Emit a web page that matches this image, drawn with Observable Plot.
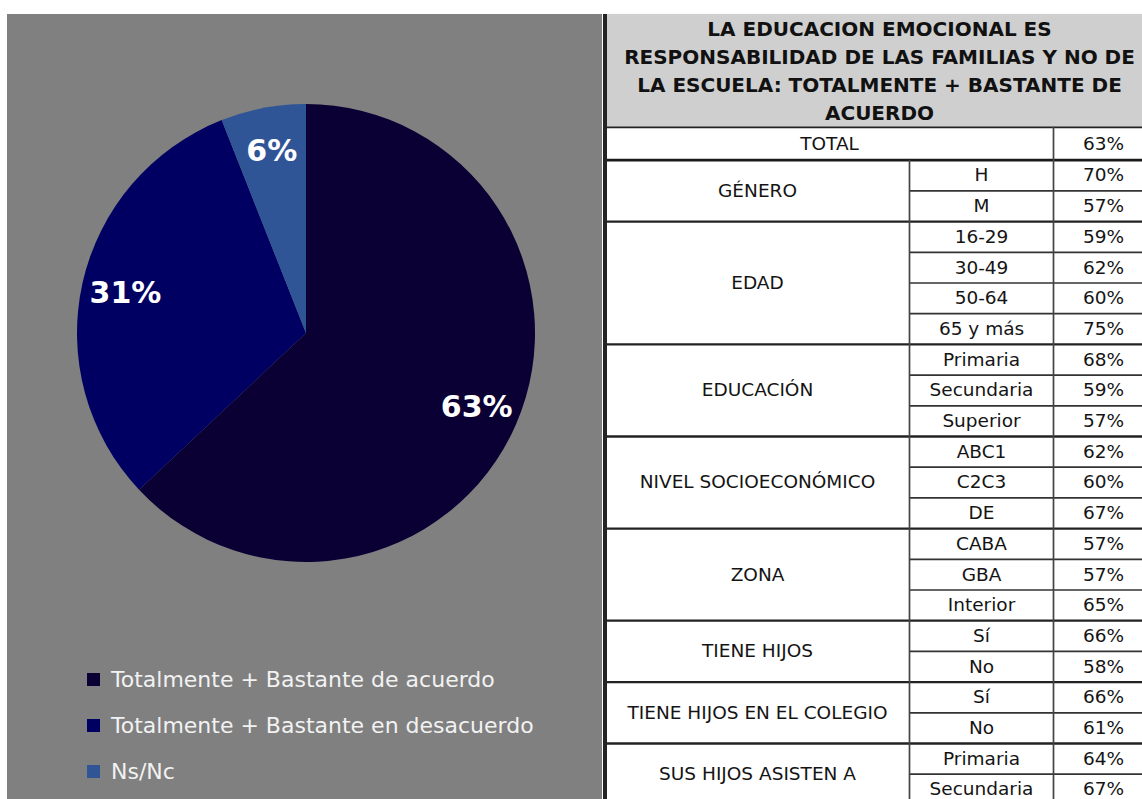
<!DOCTYPE html>
<html><head><meta charset="utf-8">
<script src="https://cdn.jsdelivr.net/npm/d3@7"></script>
<script src="https://cdn.jsdelivr.net/npm/@observablehq/plot@0.6"></script>
<style>
html,body{margin:0;padding:0;background:#fff;width:1142px;height:799px;overflow:hidden;font-family:"DejaVu Sans",sans-serif;}
#left{position:absolute;left:7px;top:14px;width:596px;height:785px;background:#808080;overflow:hidden;}
#right{position:absolute;left:602px;top:0;width:540px;height:799px;overflow:hidden;}
#legend{position:absolute;left:80px;top:642px;}
.li{display:flex;align-items:center;height:46px;color:#f2f2f2;font-size:22px;white-space:nowrap;}
.sw{width:13px;height:13px;margin-right:11px;flex:none;}
svg{overflow:hidden;display:block;}
</style></head><body>
<div id="left"><div id="pie"></div><div id="legend"></div></div>
<div id="right"></div>
<script>
// ---- data ----
const pieCategories = ["Totalmente + Bastante de acuerdo", "Totalmente + Bastante en desacuerdo", "Ns/Nc"];
const pieValues = [63, 31, 6];
const pieColors = ["#0b0033", "#000062", "#2f5597"];

const titleLines = ["LA EDUCACION EMOCIONAL ES", "RESPONSABILIDAD DE LAS FAMILIAS Y NO DE", "LA ESCUELA: TOTALMENTE + BASTANTE DE", "ACUERDO"];
const totalLabel = "TOTAL";
const totalValue = 63;
const groupLabels = ["GÉNERO", "EDAD", "EDUCACIÓN", "NIVEL SOCIOECONÓMICO", "ZONA", "TIENE HIJOS", "TIENE HIJOS EN EL COLEGIO", "SUS HIJOS ASISTEN A"];
const groupSizes = [2, 4, 3, 3, 3, 2, 2, 2];
const subLabels = ["H", "M", "16-29", "30-49", "50-64", "65 y más", "Primaria", "Secundaria", "Superior", "ABC1", "C2C3", "DE", "CABA", "GBA", "Interior", "Sí", "No", "Sí", "No", "Primaria", "Secundaria"];
const subValues = [70, 57, 59, 62, 60, 75, 68, 59, 57, 62, 60, 67, 57, 57, 65, 66, 58, 66, 61, 64, 67];

// ---- pie ----
const arcs = d3.pie().sort(null).value(d => d.v)(pieValues.map((v, i) => ({v, i, name: pieCategories[i]})));
const R_LABEL = 0.81;
const pie = Plot.plot({
  width: 596, height: 640, margin: 0,
  style: {background: "transparent", fontFamily: "DejaVu Sans"},
  x: {domain: [-1, 1], range: [70, 528], axis: null},
  y: {domain: [-1, 1], range: [548, 90], axis: null},
  marks: [
    (index, scales) => {
      const cx = scales.x(0), cy = scales.y(0), r = scales.x(1) - scales.x(0);
      const arc = d3.arc().innerRadius(0).outerRadius(r);
      const g = d3.create("svg:g").attr("transform", `translate(${cx},${cy})`);
      g.selectAll("path").data(arcs).join("path")
        .attr("d", arc).attr("fill", d => pieColors[d.data.i]);
      return g.node();
    },
    Plot.text(arcs, {
      x: d => R_LABEL * Math.sin((d.startAngle + d.endAngle) / 2),
      y: d => R_LABEL * Math.cos((d.startAngle + d.endAngle) / 2),
      text: d => d.data.v + "%",
      fill: "white", fontSize: 30, fontWeight: "bold"
    })
  ]
});
document.getElementById("pie").append(pie);

const legend = document.getElementById("legend");
pieCategories.forEach((c, i) => {
  const row = document.createElement("div");
  row.className = "li";
  row.innerHTML = `<span class="sw" style="background:${pieColors[i]}"></span><span>${c}</span>`;
  legend.append(row);
});

// ---- table ----
const colEdges = [605, 909, 1053, 1153];
const HEADER_TOP = -4.75, TOTAL_TOP = -1.07;
const nRows = subLabels.length;
const groups = [];
let acc = 0;
groupLabels.forEach((g, k) => { groups.push({label: g, start: acc, end: acc + groupSizes[k]}); acc += groupSizes[k]; });
const rows = subLabels.map((s, i) => {
  const g = groups.find(g => i >= g.start && i < g.end);
  return {i, sub: s, v: subValues[i], last: i === g.end - 1};
});
const mid = (a, b) => (a + b) / 2;
const ink = "#141414";

const table = Plot.plot({
  width: 540, height: 799, margin: 0,
  style: {background: "white", fontFamily: "DejaVu Sans"},
  x: {domain: [602, 1142], range: [0, 540], axis: null},
  y: {domain: [-4.75, 21], range: [13.9, 804.4], axis: null},
  marks: [
    Plot.rect([0], {x1: colEdges[0], x2: colEdges[3], y1: HEADER_TOP, y2: TOTAL_TOP, fill: "#cfcfcf"}),
    Plot.text([titleLines.join("\n")], {x: mid(colEdges[0], colEdges[3]), y: mid(HEADER_TOP, TOTAL_TOP), text: d => d,
      fontWeight: "bold", fontSize: 20, lineHeight: 1.4, dy: -2, fill: "#111"}),
    Plot.text([totalLabel], {x: mid(colEdges[0], colEdges[2]), y: TOTAL_TOP / 2, text: d => d, fontSize: 18.5, fill: ink}),
    Plot.text([totalValue], {x: mid(colEdges[2], colEdges[3]), y: TOTAL_TOP / 2, text: d => d + "%", fontSize: 18.5, fill: ink}),
    Plot.text(groups, {x: mid(colEdges[0], colEdges[1]), y: d => mid(d.start, d.end), text: "label", fontSize: 18.5, fill: ink}),
    Plot.text(rows, {x: mid(colEdges[1], colEdges[2]), y: d => d.i + 0.5, text: "sub", fontSize: 18.5, fill: ink}),
    Plot.text(rows, {x: mid(colEdges[2], colEdges[3]), y: d => d.i + 0.5, text: d => d.v + "%", fontSize: 18.5, fill: ink}),
    // inner row lines (cols 2-3)
    Plot.ruleY(rows.filter(r => !r.last), {y: d => d.i + 1, x1: colEdges[1], x2: colEdges[3], stroke: "#333", strokeWidth: 1.7}),
    // group lines (full width)
    Plot.ruleY(groups, {y: "end", x1: colEdges[0], x2: colEdges[3], stroke: "#222", strokeWidth: 2.3}),
    Plot.ruleY([0], {x1: colEdges[0], x2: colEdges[3], stroke: "#1a1a1a", strokeWidth: 2.8}),
    Plot.ruleY([TOTAL_TOP], {x1: colEdges[0], x2: colEdges[3], stroke: "#222", strokeWidth: 1.8}),
    // vertical lines
    Plot.ruleX([colEdges[1]], {y1: 0, y2: nRows, stroke: "#444", strokeWidth: 1.7}),
    Plot.ruleX([colEdges[2]], {y1: TOTAL_TOP, y2: nRows, stroke: "#444", strokeWidth: 1.7}),
    Plot.ruleX([colEdges[0] - 0.5], {y1: HEADER_TOP, y2: nRows, stroke: "#242424", strokeWidth: 4})
  ]
});
document.getElementById("right").append(table);
</script>
</body></html>
